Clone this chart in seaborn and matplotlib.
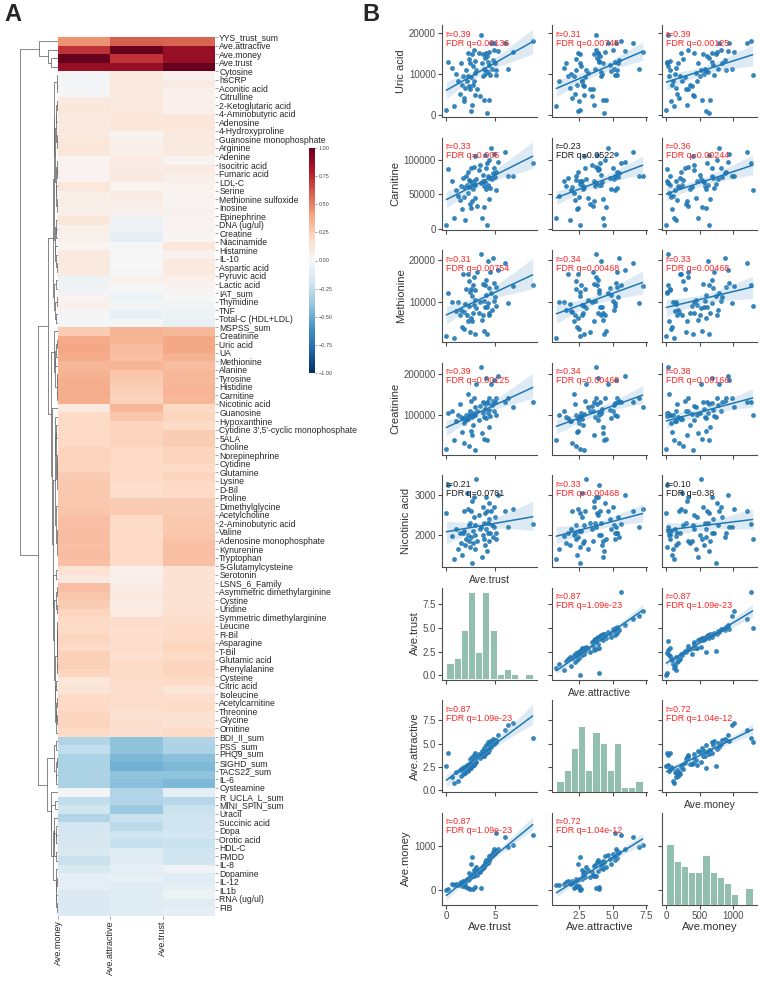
import numpy as np
import pandas as pd
import matplotlib.pyplot as plt
import seaborn as sns

# ---------------- panel A: correlation of each measure with the three ratings
row_labels = [
    "YYS_trust_sum", "Ave.attractive", "Ave.money", "Ave.trust", "Cytosine",
    "hsCRP", "Aconitic acid", "Citrulline", "2-Ketoglutaric acid", "4-Aminobutyric acid",
    "Adenosine", "4-Hydroxyproline", "Guanosine monophosphate", "Arginine", "Adenine",
    "Isocitric acid", "Fumaric acid", "LDL-C", "Serine", "Methionine sulfoxide",
    "Inosine", "Epinephrine", "DNA (ug/ul)", "Creatine", "Niacinamide",
    "Histamine", "IL-10", "Aspartic acid", "Pyruvic acid", "Lactic acid",
    "IAT_sum", "Thymidine", "TNF", "Total-C (HDL+LDL)", "MSPSS_sum",
    "Creatinine", "Uric acid", "UA", "Methionine", "Alanine",
    "Tyrosine", "Histidine", "Carnitine", "Nicotinic acid", "Guanosine",
    "Hypoxanthine", "Cytidine 3',5'-cyclic monophosphate", "5ALA", "Choline", "Norepinephrine",
    "Cytidine", "Glutamine", "Lysine", "D-Bil", "Proline",
    "Dimethylglycine", "Acetylcholine", "2-Aminobutyric acid", "Valine", "Adenosine monophosphate",
    "Kynurenine", "Tryptophan", "5-Glutamylcysteine", "Serotonin", "LSNS_6_Family",
    "Asymmetric dimethylarginine", "Cystine", "Uridine", "Symmetric dimethylarginine", "Leucine",
    "R-Bil", "Asparagine", "T-Bil", "Glutamic acid", "Phenylalanine",
    "Cysteine", "Citric acid", "Isoleucine", "Acetylcarnitine", "Threonine",
    "Glycine", "Ornitine", "BDI_II_sum", "PSS_sum", "PHQ9_sum",
    "SIGHD_sum", "TACS22_sum", "IL-6", "Cysteamine", "R_UCLA_L_sum",
    "MINI_SPIN_sum", "Uracil", "Succinic acid", "Dopa", "Orotic acid",
    "HDL-C", "FMDD", "IL-8", "Dopamine", "IL-12",
    "IL1b", "RNA (ug/ul)", "FIB",
]
corr_money = [
    0.45, 0.72, 1.00, 0.87, -0.03, -0.02, -0.02, 0.10, 0.12, 0.10,
    0.10, 0.10, 0.12, 0.12, 0.03, 0.04, 0.03, 0.12, 0.07, 0.07,
    0.06, 0.12, 0.05, 0.05, 0.02, 0.10, 0.10, 0.10, -0.05, -0.04,
    0.03, 0.05, -0.02, -0.02, 0.25, 0.38, 0.39, 0.37, 0.33, 0.35,
    0.36, 0.37, 0.36, 0.10, 0.20, 0.20, 0.20, 0.20, 0.23, 0.23,
    0.22, 0.25, 0.27, 0.27, 0.27, 0.28, 0.30, 0.30, 0.31, 0.30,
    0.31, 0.30, 0.15, 0.10, 0.30, 0.28, 0.25, 0.22, 0.20, 0.20,
    0.22, 0.20, 0.24, 0.24, 0.22, 0.12, 0.14, 0.20, 0.20, 0.22,
    0.22, 0.20, -0.30, -0.25, -0.32, -0.32, -0.32, -0.32, -0.03, -0.25,
    -0.20, -0.30, -0.18, -0.17, -0.17, -0.15, -0.22, -0.16, -0.10, -0.10,
    -0.15, -0.15, -0.15,
]
corr_attractive = [
    0.60, 1.00, 0.72, 0.87, 0.10, 0.10, 0.10, 0.10, 0.10, 0.12,
    0.12, 0.03, 0.05, 0.06, 0.08, 0.08, 0.10, 0.02, 0.08, 0.07,
    0.05, -0.05, -0.05, -0.10, 0.00, 0.00, 0.00, -0.02, 0.05, 0.00,
    -0.05, -0.03, -0.08, -0.02, 0.35, 0.34, 0.31, 0.30, 0.34, 0.28,
    0.26, 0.24, 0.23, 0.33, 0.28, 0.22, 0.22, 0.22, 0.20, 0.20,
    0.20, 0.20, 0.18, 0.18, 0.25, 0.25, 0.20, 0.20, 0.20, 0.20,
    0.20, 0.20, 0.05, 0.05, 0.08, 0.10, 0.08, 0.10, 0.18, 0.17,
    0.17, 0.18, 0.17, 0.20, 0.20, 0.18, 0.18, 0.18, 0.18, 0.15,
    0.17, 0.17, -0.40, -0.40, -0.45, -0.48, -0.40, -0.42, -0.30, -0.30,
    -0.37, -0.22, -0.27, -0.20, -0.23, -0.12, -0.12, -0.10, -0.08, -0.12,
    -0.12, -0.12, -0.12,
]
corr_trust = [
    0.58, 0.87, 0.87, 1.00, 0.04, 0.08, 0.05, 0.05, 0.05, 0.12,
    0.12, 0.10, 0.10, 0.10, 0.03, 0.08, 0.06, 0.04, 0.03, 0.03,
    0.04, 0.03, 0.03, 0.02, 0.12, 0.04, 0.10, 0.10, 0.05, 0.03,
    0.00, -0.04, -0.05, -0.08, 0.33, 0.39, 0.39, 0.35, 0.31, 0.33,
    0.33, 0.34, 0.33, 0.21, 0.22, 0.20, 0.25, 0.25, 0.22, 0.22,
    0.20, 0.22, 0.20, 0.20, 0.25, 0.25, 0.27, 0.27, 0.28, 0.30,
    0.30, 0.30, 0.15, 0.15, 0.15, 0.15, 0.15, 0.16, 0.18, 0.20,
    0.20, 0.22, 0.20, 0.22, 0.22, 0.20, 0.12, 0.18, 0.20, 0.15,
    0.15, 0.20, -0.30, -0.32, -0.42, -0.45, -0.40, -0.45, -0.10, -0.28,
    -0.22, -0.20, -0.20, -0.18, -0.22, -0.20, -0.20, -0.04, -0.12, -0.10,
    -0.05, -0.12, -0.10,
]

# ---------------- panel B: one value per subject
ave_trust = [
    0.0, 0.2, 0.6, 0.8, 1.0, 1.2, 1.4, 1.5, 1.6, 1.7,
    1.8, 1.85, 1.9, 2.0, 2.1, 2.2, 2.25, 2.3, 2.35, 2.4,
    2.45, 2.5, 2.55, 2.6, 2.65, 2.7, 2.75, 2.8, 2.85, 2.9,
    2.9, 2.93, 3.0, 3.15, 3.35, 3.5, 3.6, 3.7, 3.75, 3.8,
    3.85, 3.9, 3.95, 4.0, 4.05, 4.1, 4.15, 4.2, 4.25, 4.3,
    4.35, 4.4, 4.42, 4.5, 4.6, 4.7, 4.75, 4.85, 4.9, 4.95,
    5.05, 5.1, 5.3, 6.0, 6.3, 6.8, 8.85,
]
ave_attractive = [
    2.6, 4.0,
    1.4, 0.8, 1.9, 1.0, 2.2, 1.5, 2.35, 1.7, 2.0, 2.5,
    1.8, 2.25, 2.7, 2.1, 2.45, 2.85, 2.3, 2.6, 3.3, 2.4,
    2.93, 2.55, 3.6, 2.65, 2.8, 3.8, 2.75, 3.2, 2.9, 4.0,
    3.0, 3.55, 3.9, 3.45, 3.75, 4.25, 3.65, 4.1, 3.7, 4.5,
    3.85, 4.2, 3.95, 4.9, 4.05, 4.35, 4.15, 5.15, 4.3, 4.8,
    4.4, 5.3, 4.65, 5.12, 5.5, 5.0, 5.25, 5.4, 5.2, 5.35,
    5.9, 6.5, 7.0, 7.25, 5.6,
]
ave_money = [
    0, 5, 140, 115, 130, 100, 160, 180, 90, 210,
    195, 75, 150, 60, 240, 45, 220, 385, 250, 10,
    300, 600, 280, 750, 315, 20, 350, 320, 460, 450,
    400, 50, 515, 330, 420, 415, 30, 480, 550, 500,
    580, 530, 640, 560, 685, 590, 610, 645, 620, 690,
    660, 700, 770, 720, 800, 785, 880, 820, 950, 840,
    1300, 900, 930, 1220, 985, 1020, 1270,
]
uric_acid = [
    1200, 12800, 11500, 2200, 9900, 8200, 5000, 12700, 7200, 9400,
    4000, 3300, 6600, 11000, 8300, 9400, 15000, 7000, 13500, 12500,
    6400, 1000, 9300, 14700, 2500, 11800, 7300, 15700, 8300, 10100,
    4800, 13200, 10800, 6200, 15000, 4500, 19500, 12500, 14800, 9400,
    11100, 3600, 13700, 9900, 15100, 10600, 14200, 500, 10300, 12900,
    3600, 12100, 15400, 9600, 17500, 11200, 13400, 15700, 17400, 12700,
    9800, 11000, 15500, 17500, 11200, 15300, 18000,
]
carnitine = [
    5000, 86000, 70000, 15000, 56000, 47000, 42000, 62000, 28000, 74000,
    60000, 46000, 12000, 77000, 64000, 52000, 83000, 60000, 71000, 69000,
    36000, 30000, 88000, 65000, 40000, 66000, 58000, 90000, 70000, 45000,
    105000, 63000, 72000, 33000, 85000, 93000, 66000, 15000, 70000, 78000,
    62000, 31000, 107000, 68000, 88000, 58000, 95000, 5000, 64000, 76000,
    43000, 74000, 100000, 59000, 117000, 72000, 81000, 88000, 109000, 75000,
    56000, 83000, 97000, 112000, 76000, 76000, 96000,
]
methionine = [
    2000, 12200, 10000, 1500, 7800, 10000, 6800, 8000, 4000, 16500,
    7500, 3500, 9600, 13000, 7000, 5500, 16500, 9000, 15000, 12300,
    2800, 6200, 13000, 11500, 5400, 14000, 7300, 16000, 9300, 10500,
    2300, 12800, 8500, 17200, 7400, 9900, 21300, 5800, 14200, 7000,
    10300, 3100, 13900, 8900, 15300, 11700, 8700, 2500, 19600, 9800,
    7400, 13400, 6800, 17000, 12000, 8100, 20500, 10200, 14400, 11200,
    9000, 13500, 17500, 19200, 9700, 13800, 14000,
]
creatinine = [
    15000, 105000, 108000, 38000, 85000, 100000, 125000, 95000, 58000, 92000,
    30000, 80000, 83000, 100000, 90000, 150000, 88000, 102000, 22000, 97000,
    110000, 60000, 134000, 95000, 50000, 103000, 75000, 140000, 100000, 118000,
    12000, 99000, 176000, 108000, 86000, 120000, 218000, 55000, 130000, 103000,
    95000, 40000, 125000, 113000, 190000, 92000, 131000, 37000, 104000, 128000,
    70000, 112000, 141000, 97000, 175000, 123000, 133000, 110000, 186000, 130000,
    100000, 142000, 195000, 130000, 140000, 118000, 131000,
]
nicotinic_acid = [
    2550, 3250, 1980, 1400, 2150, 1650, 2050, 1800, 1500, 2050,
    2600, 2100, 1750, 1900, 3050, 2000, 2650, 1850, 2250, 1700,
    2300, 1950, 2600, 1300, 2850, 2100, 1800, 2950, 2450, 1650,
    2250, 2000, 3400, 1850, 2500, 2150, 2200, 1450, 2700, 2000,
    2300, 1900, 2550, 1750, 2950, 2150, 2600, 1600, 2300, 2050,
    1850, 2400, 2800, 2050, 2600, 2250, 1950, 2700, 2200, 2450,
    1900, 2050, 3000, 2600, 2200, 2650, 2280,
]

x_vars = ["Ave.trust", "Ave.attractive", "Ave.money"]
y_vars = ["Uric acid", "Carnitine", "Methionine", "Creatinine", "Nicotinic acid",
          "Ave.trust", "Ave.attractive", "Ave.money"]

# printed r / FDR q of each off-diagonal panel (None on the diagonal)
r_vals = [[0.39, 0.31, 0.39], [0.33, 0.23, 0.36], [0.31, 0.34, 0.33],
          [0.39, 0.34, 0.38], [0.21, 0.33, 0.10], [None, 0.87, 0.87],
          [0.87, None, 0.72], [0.87, 0.72, None]]
q_vals = [[0.00136, 0.00745, 0.00125], [0.005, 0.0522, 0.00244],
          [0.00754, 0.00468, 0.00468], [0.00125, 0.00468, 0.00166],
          [0.0781, 0.00468, 0.38], [None, 1.09e-23, 1.09e-23],
          [1.09e-23, None, 1.04e-12], [1.09e-23, 1.04e-12, None]]

sns.set_theme(style="ticks")
plt.rcParams["font.family"] = ["Liberation Sans", "DejaVu Sans"]
plt.rcParams["axes.edgecolor"] = "0.3"
plt.rcParams["xtick.color"] = "0.3"
plt.rcParams["ytick.color"] = "0.3"

W, H = 760, 981
fig = plt.figure(figsize=(W / 100, H / 100), dpi=100)


def px(x0, y0, x1, y1):
    return [x0 / W, 1 - y1 / H, (x1 - x0) / W, (y1 - y0) / H]


# ---- heatmap
corr = pd.DataFrame({"Ave.money": corr_money,
                     "Ave.attractive": corr_attractive,
                     "Ave.trust": corr_trust}, index=row_labels)
n = len(row_labels)
ax_hm = fig.add_axes(px(58, 37, 215, 916))
ax_cb = fig.add_axes(px(309, 148, 315, 373))
sns.heatmap(corr, ax=ax_hm, cbar_ax=ax_cb, cmap="RdBu_r", vmin=-1, vmax=1,
            xticklabels=True, yticklabels=True)
ax_hm.yaxis.tick_right()
ax_hm.set_yticks(np.arange(n))
ax_hm.set_yticklabels(row_labels, rotation=0, fontsize=6.2, color="0.15")
ax_hm.set_xticks(np.arange(3))
ax_hm.set_xticklabels(corr.columns, rotation=90, fontsize=6.5, color="0.15", va="top")
ax_hm.tick_params(length=2, width=0.5, pad=1, color="0.5")
ax_hm.set_xlabel("")
ax_hm.set_ylabel("")
cb = ax_hm.collections[0].colorbar
cb.set_ticks(np.linspace(-1, 1, 9))
cb.ax.tick_params(labelsize=4, length=1.5, width=0.4, pad=1)

# ---- row dendrogram (average linkage, leaves kept in the table order)
X = corr.to_numpy()
D = np.sqrt(((X[:, None, :] - X[None, :, :]) ** 2).sum(-1))
ax_dg = fig.add_axes(px(20, 37, 58, 916))
clusters = [[i] for i in range(n)]
ypos = list(np.arange(n) + 0.5)
hts = [0.0] * n
while len(clusters) > 1:
    gaps = [D[np.ix_(clusters[k], clusters[k + 1])].mean() for k in range(len(clusters) - 1)]
    k = int(np.argmin(gaps))
    h = max(gaps[k], hts[k], hts[k + 1])
    ax_dg.plot([hts[k], h, h, hts[k + 1]], [ypos[k], ypos[k], ypos[k + 1], ypos[k + 1]],
               color="0.4", lw=0.55)
    clusters[k:k + 2] = [clusters[k] + clusters[k + 1]]
    ypos[k:k + 2] = [(ypos[k] + ypos[k + 1]) / 2]
    hts[k:k + 2] = [h]
ax_dg.set_ylim(n, 0)
ax_dg.set_xlim(hts[0], 0)
ax_dg.axis("off")

# ---- pair grid
subjects = pd.DataFrame({
    "Ave.trust": ave_trust, "Ave.attractive": ave_attractive, "Ave.money": ave_money,
    "Uric acid": uric_acid, "Carnitine": carnitine, "Methionine": methionine,
    "Creatinine": creatinine, "Nicotinic acid": nicotinic_acid,
})

axes = np.empty((len(y_vars), len(x_vars)), dtype=object)
for i in range(len(y_vars)):
    for j in range(len(x_vars)):
        left, top = 442 + 110 * j, 25 + 112.5 * i
        kw = {}
        if i > 0:
            kw["sharex"] = axes[0, j]
        if j > 0:
            kw["sharey"] = axes[i, 0]
        axes[i, j] = fig.add_axes(px(left, top, left + 95, top + 92), **kw)

first_hist = None
for i, yv in enumerate(y_vars):
    for j, xv in enumerate(x_vars):
        ax = axes[i, j]
        if xv == yv:
            hax = ax.twinx()
            if first_hist is None:
                first_hist = hax
            else:
                hax.sharey(first_hist)
            sns.histplot(subjects[xv], bins=12, ax=hax, color="#93bfae",
                         edgecolor="white", linewidth=0.7, alpha=1)
            hax.set_axis_off()
            ax.set_title(xv, fontsize=7.5, pad=3, color="0.2")
        else:
            sns.regplot(data=subjects, x=xv, y=yv, ax=ax, color="#1f77b4", seed=1,
                        scatter_kws={"s": 12, "linewidths": 0, "alpha": 0.9},
                        line_kws={"lw": 1.1})
            q = q_vals[i][j]
            ax.text(0.04, 0.95, f"r={r_vals[i][j]:.2f}\nFDR q={q:.3g}",
                    transform=ax.transAxes, va="top", ha="left", fontsize=6.4,
                    linespacing=1.0, color="#ff2222" if q < 0.05 else "0.1")
        ax.set_xlabel(xv if i == len(y_vars) - 1 else "", fontsize=8, color="0.2", labelpad=1)
        ax.set_ylabel(yv if j == 0 else "", fontsize=8, color="0.2", labelpad=2)
        ax.tick_params(labelsize=7, length=3, width=0.8, pad=1.5,
                       labelbottom=(i == len(y_vars) - 1), labelleft=(j == 0))
        ax.spines[["top", "right"]].set_visible(False)
        for s in ("left", "bottom"):
            ax.spines[s].set_linewidth(0.8)

fig.text(4 / W, 1 - 3 / H, "A", fontsize=17, fontweight="bold", va="top")
fig.text(362 / W, 1 - 3 / H, "B", fontsize=17, fontweight="bold", va="top")

fig.savefig("out.png", dpi=100)
